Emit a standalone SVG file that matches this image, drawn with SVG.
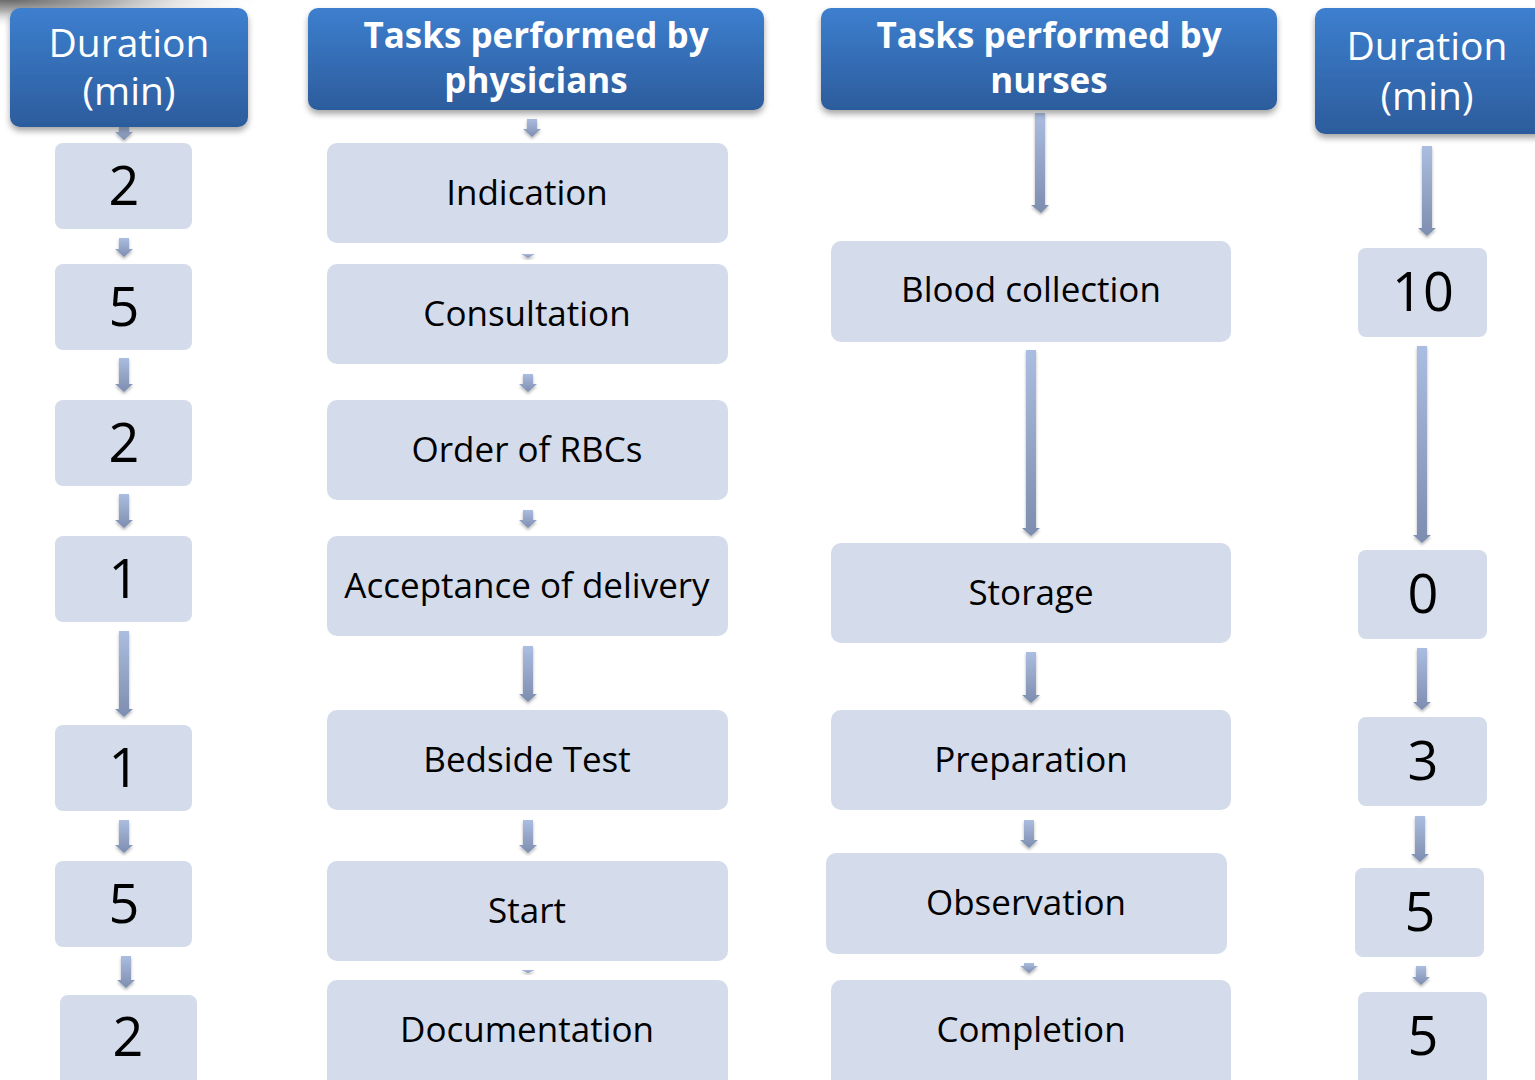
<svg xmlns="http://www.w3.org/2000/svg" width="1535" height="1080" viewBox="0 0 1535 1080">
<defs>
<linearGradient id="hg" x1="0" y1="0" x2="0" y2="1">
<stop offset="0" stop-color="#3d7fcf"/>
<stop offset="1" stop-color="#2c5c9c"/>
</linearGradient>
<linearGradient id="ag" x1="0" y1="0" x2="0" y2="1">
<stop offset="0" stop-color="#abbde0"/>
<stop offset="1" stop-color="#7d8daf"/>
</linearGradient>
<radialGradient id="cg" cx="0" cy="0" r="1" gradientUnits="userSpaceOnUse" gradientTransform="translate(10 0) scale(260 28)">
<stop offset="0" stop-color="#6a6a6a"/>
<stop offset="0.4" stop-color="#b0b0b0"/>
<stop offset="1" stop-color="#ffffff" stop-opacity="0"/>
</radialGradient>
<filter id="hs" x="-10%" y="-20%" width="120%" height="150%">
<feDropShadow dx="0" dy="4" stdDeviation="3" flood-color="#000" flood-opacity="0.35"/>
</filter>
<filter id="as" x="-50%" y="-20%" width="200%" height="160%">
<feDropShadow dx="0" dy="2" stdDeviation="1.5" flood-color="#000" flood-opacity="0.3"/>
</filter>
<style>
.hdr{fill:url(#hg);filter:url(#hs)}
.box{fill:#d4dbea}
.arr{fill:url(#ag);filter:url(#as)}
.ht{font-family:"Open Sans","Noto Sans",sans-serif;font-size:39px;fill:#fff;text-anchor:middle}
.hb{font-family:"Open Sans","Noto Sans",sans-serif;font-size:35px;font-weight:bold;fill:#fff;text-anchor:middle}
.bt{font-family:"Open Sans","Noto Sans",sans-serif;font-size:35px;fill:#000;text-anchor:middle}
.nt{font-family:"Open Sans","Noto Sans",sans-serif;font-size:54px;fill:#000;text-anchor:middle}
</style>
</defs>
<rect width="1535" height="1080" fill="#fff"/>
<rect x="0" y="0" width="280" height="28" fill="url(#cg)"/>

<g id="connectors">
<path class="arr" d="M119 127 H129 V132 H133 L124 140 L115 132 H119 Z"/>
<path class="arr" d="M119 238 H129 V249 H133 L124 257 L115 249 H119 Z"/>
<path class="arr" d="M119 358 H129 V384 H133 L124 392 L115 384 H119 Z"/>
<path class="arr" d="M119 494 H129 V520 H133 L124 528 L115 520 H119 Z"/>
<path class="arr" d="M119 631 H129 V709 H133 L124 717 L115 709 H119 Z"/>
<path class="arr" d="M119 820 H129 V845 H133 L124 853 L115 845 H119 Z"/>
<path class="arr" d="M121 956 H131 V980 H135 L126 988 L117 980 H121 Z"/>

<path class="arr" d="M527 119 H537 V129 H541 L532 137 L523 129 H527 Z"/>
<path class="arr" d="M521 254 H535 L528 258 Z"/>
<path class="arr" d="M523 374 H533 V384 H537 L528 392 L519 384 H523 Z"/>
<path class="arr" d="M523 510 H533 V520 H537 L528 528 L519 520 H523 Z"/>
<path class="arr" d="M523 646 H533 V694 H537 L528 702 L519 694 H523 Z"/>
<path class="arr" d="M523 820 H533 V845 H537 L528 853 L519 845 H523 Z"/>
<path class="arr" d="M521 970 H535 L528 973 Z"/>

<path class="arr" d="M1035 113 H1045 V205 H1049 L1041 213 L1031 205 H1035 Z"/>
<path class="arr" d="M1026 350 H1036 V528 H1040 L1031 536 L1022 528 H1026 Z"/>
<path class="arr" d="M1026 652 H1036 V695 H1040 L1031 703 L1022 695 H1026 Z"/>
<path class="arr" d="M1024 820 H1034 V840 H1038 L1029 848 L1020 840 H1024 Z"/>
<path class="arr" d="M1024 963 H1034 V966 H1038 L1029 973 L1020 966 H1024 Z"/>

<path class="arr" d="M1422 146 H1432 V228 H1436 L1427 236 L1418 228 H1422 Z"/>
<path class="arr" d="M1417 346 H1427 V535 H1431 L1422 543 L1413 535 H1417 Z"/>
<path class="arr" d="M1417 648 H1427 V702 H1431 L1422 710 L1413 702 H1417 Z"/>
<path class="arr" d="M1415 816 H1425 V854 H1429 L1420 862 L1411 854 H1415 Z"/>
<path class="arr" d="M1416 966 H1426 V977 H1430 L1421 985 L1412 977 H1416 Z"/>
</g>

<g id="h-duration-left"><rect class="hdr" x="10" y="8" width="238" height="119" rx="10"/><text class="ht" x="129" y="57">Duration</text><text class="ht" x="129" y="105">(min)</text></g>
<g id="h-physicians"><rect class="hdr" x="308" y="8" width="456" height="102" rx="10"/><text class="hb" x="536" y="48">Tasks performed by</text><text class="hb" x="536" y="93">physicians</text></g>
<g id="h-nurses"><rect class="hdr" x="821" y="8" width="456" height="102" rx="10"/><text class="hb" x="1049" y="48">Tasks performed by</text><text class="hb" x="1049" y="93">nurses</text></g>
<g id="h-duration-right"><rect class="hdr" x="1315" y="8" width="235" height="126" rx="10"/><text class="ht" x="1427" y="60">Duration</text><text class="ht" x="1427" y="110">(min)</text></g>

<g id="l1"><rect class="box" x="55" y="143" width="137" height="86" rx="8"/><text class="nt" x="124" y="205">2</text></g>
<g id="l2"><rect class="box" x="55" y="264" width="137" height="86" rx="8"/><text class="nt" x="124" y="326">5</text></g>
<g id="l3"><rect class="box" x="55" y="400" width="137" height="86" rx="8"/><text class="nt" x="124" y="462">2</text></g>
<g id="l4"><rect class="box" x="55" y="536" width="137" height="86" rx="8"/><text class="nt" x="124" y="598">1</text></g>
<g id="l5"><rect class="box" x="55" y="725" width="137" height="86" rx="8"/><text class="nt" x="124" y="787">1</text></g>
<g id="l6"><rect class="box" x="55" y="861" width="137" height="86" rx="8"/><text class="nt" x="124" y="923">5</text></g>
<g id="l7"><rect class="box" x="60" y="995" width="137" height="95" rx="8"/><text class="nt" x="128" y="1056">2</text></g>

<g id="p1"><rect class="box" x="327" y="143" width="401" height="100" rx="10"/><text class="bt" x="527" y="205">Indication</text></g>
<g id="p2"><rect class="box" x="327" y="264" width="401" height="100" rx="10"/><text class="bt" x="527" y="326">Consultation</text></g>
<g id="p3"><rect class="box" x="327" y="400" width="401" height="100" rx="10"/><text class="bt" x="527" y="462">Order of RBCs</text></g>
<g id="p4"><rect class="box" x="327" y="536" width="401" height="100" rx="10"/><text class="bt" x="527" y="598">Acceptance of delivery</text></g>
<g id="p5"><rect class="box" x="327" y="710" width="401" height="100" rx="10"/><text class="bt" x="527" y="772">Bedside Test</text></g>
<g id="p6"><rect class="box" x="327" y="861" width="401" height="100" rx="10"/><text class="bt" x="527" y="923">Start</text></g>
<g id="p7"><rect class="box" x="327" y="980" width="401" height="110" rx="10"/><text class="bt" x="527" y="1042">Documentation</text></g>

<g id="n1"><rect class="box" x="831" y="241" width="400" height="101" rx="10"/><text class="bt" x="1031" y="302">Blood collection</text></g>
<g id="n2"><rect class="box" x="831" y="543" width="400" height="100" rx="10"/><text class="bt" x="1031" y="605">Storage</text></g>
<g id="n3"><rect class="box" x="831" y="710" width="400" height="100" rx="10"/><text class="bt" x="1031" y="772">Preparation</text></g>
<g id="n4"><rect class="box" x="826" y="853" width="401" height="101" rx="10"/><text class="bt" x="1026" y="915">Observation</text></g>
<g id="n5"><rect class="box" x="831" y="980" width="400" height="110" rx="10"/><text class="bt" x="1031" y="1042">Completion</text></g>

<g id="r1"><rect class="box" x="1358" y="248" width="129" height="89" rx="8"/><text class="nt" x="1423" y="311">10</text></g>
<g id="r2"><rect class="box" x="1358" y="550" width="129" height="89" rx="8"/><text class="nt" x="1423" y="613">0</text></g>
<g id="r3"><rect class="box" x="1358" y="717" width="129" height="89" rx="8"/><text class="nt" x="1423" y="780">3</text></g>
<g id="r4"><rect class="box" x="1355" y="868" width="129" height="89" rx="8"/><text class="nt" x="1420" y="931">5</text></g>
<g id="r5"><rect class="box" x="1358" y="992" width="129" height="98" rx="8"/><text class="nt" x="1423" y="1055">5</text></g>
</svg>
